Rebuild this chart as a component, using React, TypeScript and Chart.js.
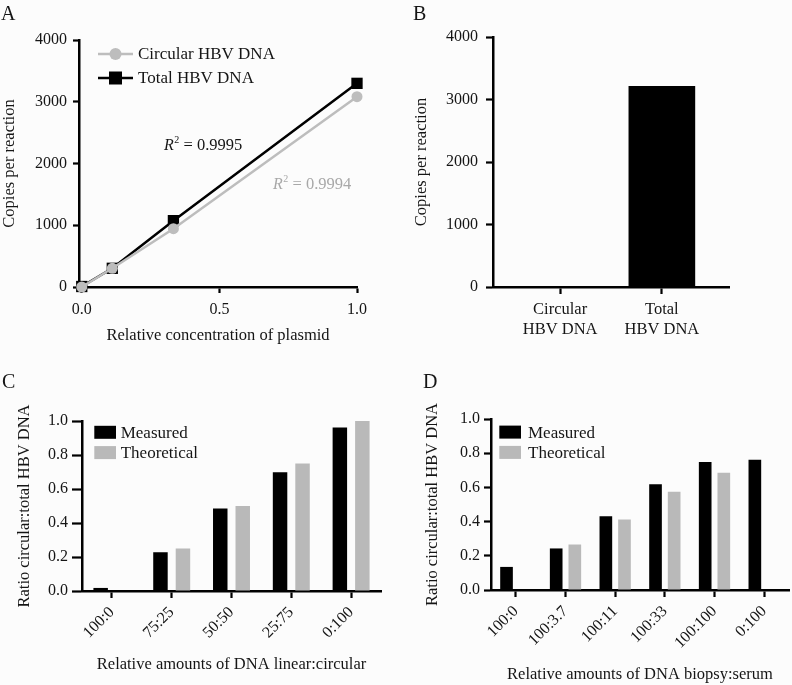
import React, { useEffect, useRef } from 'react';
import { Chart, registerables } from 'chart.js';

Chart.register(...registerables);

const FONT = "'Liberation Serif', 'Times New Roman', serif";
const INK = '#151515';
const BAR_GRAY = '#b9b9b9';
const LINE_GRAY = '#bdbdbd';
const R2_GRAY = '#a8a8a8';

// ---------- Panel A data ----------
const plasmidConc = [0, 0.111, 0.333, 1.0];
const circularCopies = [0, 303, 944, 3082];
const totalCopies = [8, 303, 1074, 3298];
const copiesTicks = [0, 1000, 2000, 3000, 4000];
const concTicks = [0, 0.5, 1.0];
const r2Total = '0.9995';
const r2Circular = '0.9994';

// ---------- Panel B data ----------
const bCategories = [['Circular', 'HBV DNA'], ['Total', 'HBV DNA']];
const bCopies = [0, 3209];

// ---------- Panel C data ----------
const cCategories = ['100:0', '75:25', '50:50', '25:75', '0:100'];
const cMeasured = [0.018, 0.228, 0.486, 0.698, 0.962];
const cTheoretical = [0, 0.25, 0.5, 0.75, 1.0];

// ---------- Panel D data ----------
const dCategories = ['100:0', '100:3.7', '100:11', '100:33', '100:100', '0:100'];
const dMeasured = [0.135, 0.243, 0.431, 0.619, 0.748, 0.761];
const dTheoretical = [null, 0.266, 0.413, 0.575, 0.685, null];

const ratioTicks = [0, 0.2, 0.4, 0.6, 0.8, 1.0];

// ---------- plugins ----------
const r2Plugin = {
  id: 'r2Labels',
  afterDatasetsDraw(chart: any, _a: any, opts: any) {
    if (!opts || !opts.items) return;
    const { ctx, scales } = chart;
    ctx.save();
    ctx.textBaseline = 'middle';
    ctx.textAlign = 'left';
    for (const it of opts.items) {
      let px = scales.x.getPixelForValue(it.x);
      const py = scales.y.getPixelForValue(it.y);
      ctx.fillStyle = it.color;
      ctx.font = `italic 16px ${FONT}`;
      ctx.fillText('R', px, py);
      px += ctx.measureText('R').width;
      ctx.font = `10px ${FONT}`;
      ctx.fillText('2', px + 0.5, py - 5);
      px += ctx.measureText('2').width + 0.5;
      ctx.font = `16.5px ${FONT}`;
      ctx.fillText(' = ' + it.value, px, py);
    }
    ctx.restore();
  },
};

const legendPlugin = {
  id: 'panelLegend',
  afterDraw(chart: any, _a: any, opts: any) {
    if (!opts || !opts.kind) return;
    const { ctx, chartArea } = chart;
    const L = chartArea.left;
    const T = chartArea.top;
    ctx.save();
    ctx.font = `${opts.fontSize}px ${FONT}`;
    ctx.textBaseline = 'middle';
    ctx.textAlign = 'left';
    chart.data.datasets.forEach((ds: any, i: number) => {
      const cy = T + opts.y + i * opts.rowGap;
      if (opts.kind === 'line') {
        ctx.strokeStyle = ds.borderColor;
        ctx.lineWidth = 2.5;
        ctx.beginPath();
        ctx.moveTo(L + opts.x0, cy);
        ctx.lineTo(L + opts.x1, cy);
        ctx.stroke();
        const mx = L + (opts.x0 + opts.x1) / 2;
        ctx.fillStyle = ds.borderColor;
        if (ds.pointStyle === 'circle') {
          ctx.beginPath();
          ctx.arc(mx, cy, 6, 0, Math.PI * 2);
          ctx.fill();
        } else {
          ctx.fillRect(mx - 6.5, cy - 6.5, 13, 13);
        }
      } else {
        ctx.fillStyle = ds.backgroundColor;
        ctx.fillRect(L + opts.x0, cy - opts.boxH / 2, opts.x1 - opts.x0, opts.boxH);
      }
      ctx.fillStyle = INK;
      ctx.fillText(ds.label, L + opts.textX, cy + 1);
    });
    ctx.restore();
  },
};

// ---------- helpers ----------
const gridOpts = (tickLength: number) => ({
  drawOnChartArea: false,
  drawTicks: true,
  tickLength,
  tickWidth: 2.2,
  tickColor: '#000',
  offset: false,
});
const borderOpts = { display: true, color: '#000', width: 2.5 };
const tickOpts = (pad: number, size: number, extra: any = {}) => ({
  color: INK,
  font: { family: FONT, size },
  padding: pad,
  ...extra,
});

const title = (text: string, pad: any, size = 16.5) => ({
  display: true,
  text,
  color: INK,
  font: { family: FONT, size, lineHeight: 1.2 },
  padding: pad,
});

const fixWidth = (w: number) => (s: any) => {
  s.width = w;
};
const fixHeight = (h: number) => (s: any) => {
  s.height = h;
};
const setTicks = (vals: number[]) => (s: any) => {
  s.ticks = vals.map((v) => ({ value: v }));
};
const plain = (v: any) => String(v);
const oneDec = (v: any) => Number(v).toFixed(1);

// ---------- chart configs ----------
function configA(): any {
  return {
    type: 'line',
    data: {
      datasets: [
        {
          label: 'Circular HBV DNA',
          data: plasmidConc.map((x, i) => ({ x, y: circularCopies[i] })),
          borderColor: LINE_GRAY,
          backgroundColor: LINE_GRAY,
          pointBackgroundColor: LINE_GRAY,
          pointStyle: 'circle',
          pointRadius: 5.5,
          pointBorderWidth: 0,
          borderWidth: 2.5,
          tension: 0,
          clip: false,
        },
        {
          label: 'Total HBV DNA',
          data: plasmidConc.map((x, i) => ({ x, y: totalCopies[i] })),
          borderColor: '#000',
          backgroundColor: '#000',
          pointBackgroundColor: '#000',
          pointStyle: 'rect',
          pointRadius: 8,
          pointBorderWidth: 0,
          borderWidth: 2.5,
          tension: 0,
          clip: false,
        },
      ],
    },
    options: {
      responsive: false,
      animation: false,
      devicePixelRatio: 1,
      layout: { padding: { top: 40, right: 39, left: 0, bottom: 0 } },
      plugins: {
        legend: { display: false },
        tooltip: { enabled: false },
        panelLegend: { kind: 'line', x0: 19, x1: 54, textX: 59, y: 14, rowGap: 24, fontSize: 17 },
        r2Labels: {
          items: [
            { x: 0.299, y: 2288, value: r2Total, color: INK },
            { x: 0.695, y: 1663, value: r2Circular, color: R2_GRAY },
          ],
        },
      },
      scales: {
        x: {
          type: 'linear',
          offset: false,
          min: -0.01,
          max: 1,
          grid: gridOpts(6),
          border: borderOpts,
          ticks: tickOpts(7, 16, { maxRotation: 0, callback: oneDec }),
          afterBuildTicks: setTicks(concTicks),
          afterFit: fixHeight(59),
          title: title('Relative concentration of plasmid', { top: 0, bottom: 0 }),
        },
        y: {
          type: 'linear',
          min: 0,
          max: 4000,
          grid: gridOpts(6),
          border: borderOpts,
          ticks: tickOpts(6, 16, { callback: plain }),
          afterBuildTicks: setTicks(copiesTicks),
          afterFit: fixWidth(79),
          title: title('Copies per reaction', { top: 0, bottom: 0 }),
        },
      },
    },
    plugins: [r2Plugin, legendPlugin],
  };
}

function configB(): any {
  return {
    type: 'bar',
    data: {
      datasets: [
        {
          label: 'Copies',
          data: bCopies.map((y, i) => ({ x: i, y })),
          backgroundColor: '#000',
          borderWidth: 0,
          barThickness: 66,
        },
      ],
    },
    options: {
      responsive: false,
      animation: false,
      devicePixelRatio: 1,
      layout: { padding: { top: 37, right: 63, left: 0, bottom: 0 } },
      plugins: { legend: { display: false }, tooltip: { enabled: false } },
      scales: {
        x: {
          type: 'linear',
          offset: false,
          min: -0.66,
          max: 1.66,
          grid: gridOpts(7),
          border: borderOpts,
          ticks: tickOpts(6, 16.5, {
            maxRotation: 0,
            callback: (v: any) => bCategories[Math.round(Number(v))],
          }),
          afterBuildTicks: setTicks(bCategories.map((_, i) => i)),
          afterFit: fixHeight(59),
        },
        y: {
          type: 'linear',
          min: 0,
          max: 4000,
          grid: gridOpts(7),
          border: borderOpts,
          ticks: tickOpts(8, 16, { callback: plain }),
          afterBuildTicks: setTicks(copiesTicks),
          afterFit: fixWidth(97),
          title: title('Copies per reaction', { top: 16, bottom: 0 }),
        },
      },
    },
  };
}

function ratioConfig(
  cats: string[],
  measured: (number | null)[],
  theoretical: (number | null)[],
  o: any
): any {
  return {
    type: 'bar',
    data: {
      labels: cats,
      datasets: [
        {
          label: 'Measured',
          data: measured,
          backgroundColor: '#000',
          borderWidth: 0,
          categoryPercentage: o.catPct,
          barPercentage: o.barPct,
        },
        {
          label: 'Theoretical',
          data: theoretical,
          backgroundColor: BAR_GRAY,
          borderWidth: 0,
          categoryPercentage: o.catPct,
          barPercentage: o.barPct,
        },
      ],
    },
    options: {
      responsive: false,
      animation: false,
      devicePixelRatio: 1,
      layout: { padding: { top: o.top, right: o.right, left: 0, bottom: 0 } },
      plugins: {
        legend: { display: false },
        tooltip: { enabled: false },
        panelLegend: o.legend,
      },
      scales: {
        x: {
          type: 'category',
          offset: true,
          grid: gridOpts(7),
          border: borderOpts,
          ticks: tickOpts(5, 16, { minRotation: 45, maxRotation: 45, autoSkip: false }),
          afterFit: fixHeight(o.xHeight),
          title: title(o.xTitle, { top: 0, bottom: o.xTitlePad }),
        },
        y: {
          type: 'linear',
          min: 0,
          max: 1,
          grid: gridOpts(o.yTick),
          border: borderOpts,
          ticks: tickOpts(o.yTickPad, 16, { callback: oneDec }),
          afterBuildTicks: setTicks(ratioTicks),
          afterFit: fixWidth(o.yWidth),
          title: title('Ratio circular:total HBV DNA', { top: o.yTitlePad, bottom: 0 }),
        },
      },
    },
    plugins: [legendPlugin],
  };
}

function configC(): any {
  return ratioConfig(cCategories, cMeasured, cTheoretical, {
    catPct: 0.752,
    barPct: 0.644,
    top: 76,
    right: 15,
    xHeight: 94,
    yWidth: 82,
    yTick: 10,
    yTickPad: 4,
    xTitle: 'Relative amounts of DNA linear:circular',
    xTitlePad: 10,
    yTitlePad: 15,
    legend: { kind: 'box', x0: 12.3, x1: 34, boxH: 13, textX: 38.7, y: 11.3, rowGap: 20.3, fontSize: 17 },
  });
}

function configD(): any {
  return ratioConfig(dCategories, dMeasured, dTheoretical, {
    catPct: 0.75,
    barPct: 0.68,
    top: 74,
    right: 3,
    xHeight: 95,
    yWidth: 95,
    yTick: 7,
    yTickPad: 4,
    xTitle: 'Relative amounts of DNA biopsy:serum',
    xTitlePad: 0,
    yTitlePad: 27,
    legend: { kind: 'box', x0: 8.3, x1: 30, boxH: 13, textX: 37, y: 13.1, rowGap: 20.3, fontSize: 17 },
  });
}

// ---------- components ----------
function ChartPanel(props: { left: number; top: number; width: number; height: number; make: () => any }) {
  const ref = useRef<HTMLCanvasElement>(null);
  useEffect(() => {
    const chart = new Chart(ref.current as HTMLCanvasElement, props.make());
    return () => chart.destroy();
  }, []);
  return (
    <canvas
      ref={ref}
      width={props.width}
      height={props.height}
      style={{ position: 'absolute', left: props.left, top: props.top, width: props.width, height: props.height }}
    />
  );
}

const letterStyle = (left: number, top: number): React.CSSProperties => ({
  position: 'absolute',
  left,
  top,
  fontFamily: FONT,
  fontSize: 20,
  lineHeight: '20px',
  color: INK,
});

export default function App() {
  return (
    <div
      style={{
        position: 'fixed',
        left: 0,
        top: 0,
        width: 792,
        height: 685,
        background: '#fcfcfc',
        overflow: 'hidden',
      }}
    >
      <ChartPanel left={0} top={0} width={396} height={346} make={configA} />
      <ChartPanel left={396} top={0} width={396} height={346} make={configB} />
      <ChartPanel left={0} top={345} width={396} height={340} make={configC} />
      <ChartPanel left={396} top={345} width={396} height={340} make={configD} />
      <div style={letterStyle(1, 3)}>A</div>
      <div style={letterStyle(413, 3)}>B</div>
      <div style={letterStyle(2, 371)}>C</div>
      <div style={letterStyle(423, 371)}>D</div>
    </div>
  );
}
